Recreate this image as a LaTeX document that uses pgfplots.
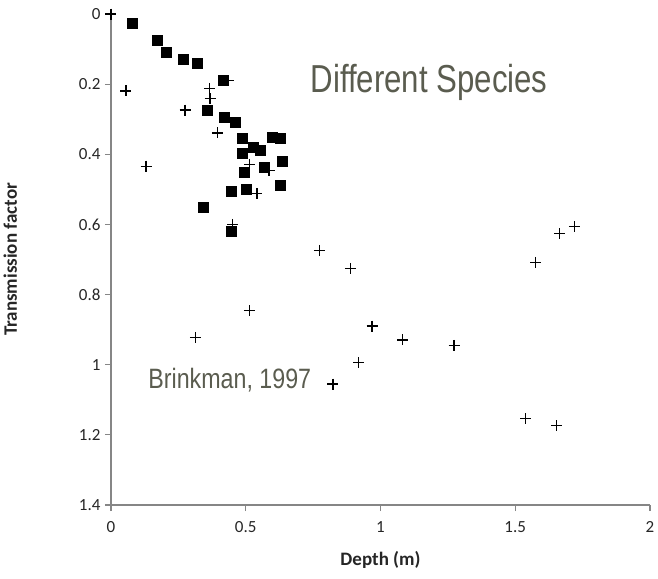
\documentclass[border=0pt]{standalone}
\usepackage{pgfplots}
\pgfplotsset{compat=1.18}
\usepackage{fontspec}
\setmainfont{Carlito}
\newfontfamily\narrow[FakeStretch=0.8]{Liberation Sans}
\newfontfamily\narrowb[FakeStretch=0.83]{Liberation Sans}
\definecolor{axisgray}{HTML}{868686}
\definecolor{notegray}{HTML}{5A5C4F}
\definecolor{ticktext}{HTML}{262626}

% squares: same species
\pgfplotstableread{
x y
0.077 0.025
0.172 0.074
0.204 0.108
0.268 0.130
0.319 0.141
0.418 0.189
0.356 0.274
0.420 0.293
0.461 0.309
0.488 0.353
0.599 0.350
0.629 0.355
0.527 0.379
0.554 0.387
0.486 0.396
0.634 0.421
0.568 0.436
0.496 0.452
0.446 0.506
0.502 0.500
0.629 0.489
0.343 0.552
0.445 0.620
}\squares

% pluses: different species (Brinkman, 1997)
\pgfplotstableread{
x y
0.000 0.000
0.436 0.190
0.055 0.219
0.366 0.212
0.368 0.241
0.275 0.274
0.395 0.339
0.130 0.434
0.514 0.429
0.587 0.446
0.541 0.512
0.451 0.600
0.773 0.674
0.513 0.846
0.313 0.922
0.888 0.725
1.665 0.626
1.719 0.606
1.576 0.708
0.969 0.890
1.082 0.929
1.273 0.945
0.919 0.994
0.823 1.055
1.539 1.154
1.654 1.174
}\pluses

\begin{document}
\begin{tikzpicture}
\begin{axis}[
  scale only axis,
  width=539pt, height=491pt,
  xmin=0, xmax=2, ymin=0, ymax=1.4,
  y dir=reverse,
  axis lines=left,
  axis line style={axisgray, line width=1.2pt, -},
  xtick={0,0.5,1,1.5,2},
  ytick={0,0.2,0.4,0.6,0.8,1,1.2,1.4},
  tick align=outside,
  major tick length=6pt,
  tick style={axisgray, line width=1.2pt},
  tick label style={font=\fontsize{17}{19}\selectfont, text=ticktext},
  /pgf/number format/assume math mode=true,
  xticklabel style={yshift=-7pt},
  yticklabel style={xshift=-1pt},
  xlabel={\textbf{Depth (m)}},
  ylabel={\textbf{Transmission factor}},
  every axis x label/.style={at={(axis description cs:0.5,-0.112)}, anchor=center,
    font=\fontsize{19}{21}\selectfont, text=ticktext},
  every axis y label/.style={at={(axis description cs:-0.187,0.5)}, rotate=90, anchor=center,
    font=\fontsize{19}{21}\selectfont, text=ticktext},
  clip=false,
]
\addplot[only marks, mark=square*, mark size=5pt, black] table[x=x, y=y] {\squares};
\addplot[only marks, mark=+, mark size=5.5pt, black, mark options={line width=1.4pt}] table[x=x, y=y] {\pluses};
\node[anchor=base west, text=notegray, font=\narrow\fontsize{39}{42}\selectfont, inner sep=0pt]
  at (axis cs:0.74,0.223) {Different Species};
\node[anchor=base west, text=notegray, font=\narrowb\fontsize{28}{30}\selectfont, inner sep=0pt]
  at (axis cs:0.138,1.069) {Brinkman, 1997};
\end{axis}
\pgfresetboundingbox
\path ([shift={(-111pt,-73pt)}]current axis.south west) rectangle ([shift={(8pt,14pt)}]current axis.north east);
\end{tikzpicture}
\end{document}
